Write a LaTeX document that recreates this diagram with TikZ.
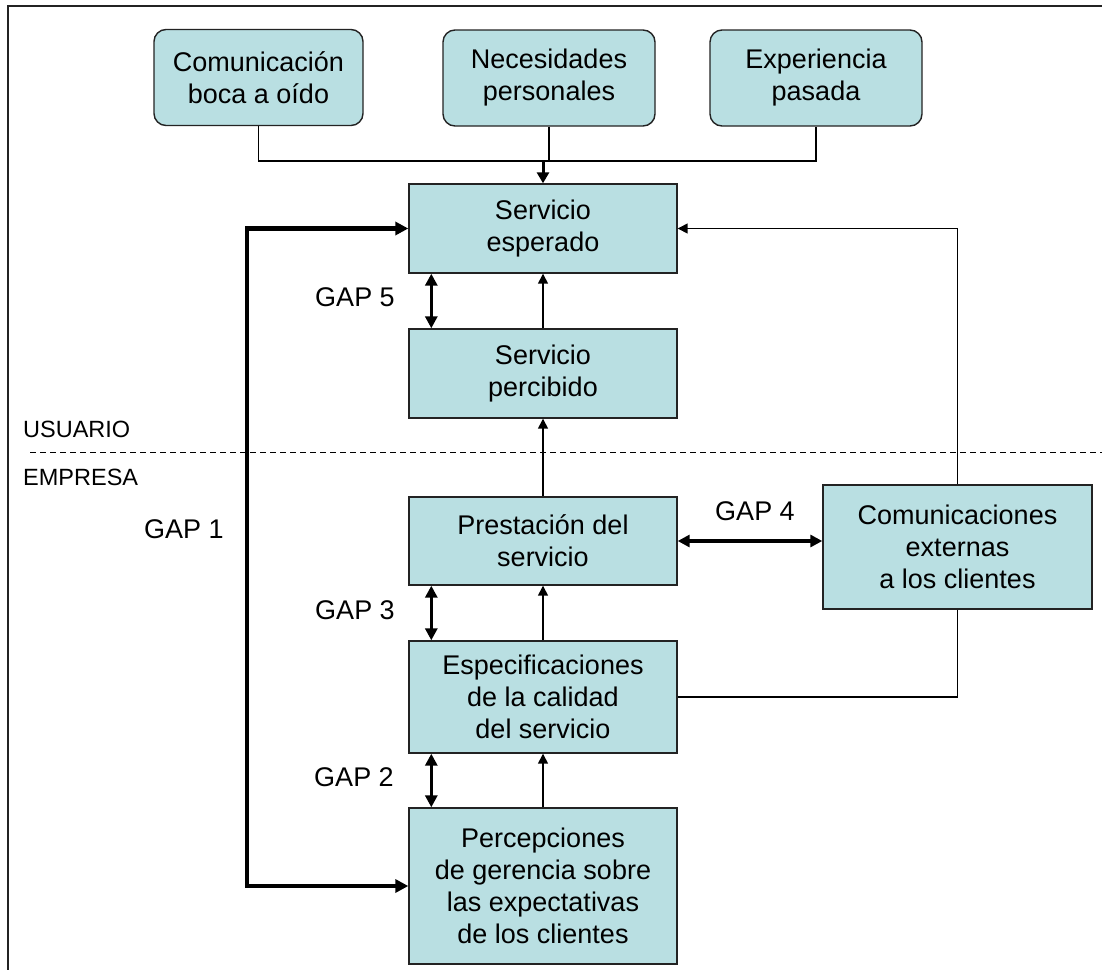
\documentclass[tikz,border=0pt]{standalone}
\usepackage{fontspec}
\setmainfont{Liberation Sans}
\usetikzlibrary{arrows.meta}
\definecolor{boxfill}{RGB}{185,223,226}
\definecolor{edge}{RGB}{35,35,35}
\tikzset{
  base/.style={draw=edge, line width=1.4pt, fill=boxfill, align=center,
    font=\fontsize{27}{32}\selectfont, inner sep=0pt},
  topbox/.style={base, rounded corners=12pt, minimum height=96pt},
  stepbox/.style={base, minimum width=268pt},
  link/.style={line width=1.5pt, draw=black},
  uparrow/.style={link, -{Triangle[length=10pt,width=10pt]}},
  gaparrow/.style={line width=3.2pt, {Triangle[length=12pt,width=12pt]}-{Triangle[length=12pt,width=12pt]}},
  gaplabel/.style={font=\fontsize{27}{32}\selectfont, inner sep=0pt},
  zonelabel/.style={font=\fontsize{23.5}{28}\selectfont, inner sep=0pt, anchor=west}
}
\begin{document}
\begin{tikzpicture}[x=1pt,y=-1pt]
\useasboundingbox (0,0) rectangle (1102,970);

% frame
\draw[line width=2pt, draw=edge] (1102,6) -- (8,6) -- (8,970);

% influences on the expected service
\node[topbox, minimum width=209pt] (boca) at (258.5,77.5) {Comunicación\\boca a oído};
\node[topbox, minimum width=212pt] (necesidades) at (549,78) {Necesidades\\personales};
\node[topbox, minimum width=212pt] (experiencia) at (816,78) {Experiencia\\pasada};

% main chain
\node[stepbox, minimum height=89pt] (esperado) at (543,228.5) {Servicio\\esperado};
\node[stepbox, minimum height=89pt] (percibido) at (543,373.5) {Servicio\\percibido};
\node[stepbox, minimum height=88pt] (prestacion) at (543,541) {Prestación del\\servicio};
\node[stepbox, minimum height=112pt] (especif) at (543,697) {Especificaciones\\de la calidad\\del servicio};
\node[stepbox, minimum height=156pt] (percep) at (543,886) {Percepciones\\de gerencia sobre\\las expectativas\\de los clientes};
\node[base, minimum width=269pt, minimum height=124pt] (externas) at (957.5,547) {Comunicaciones\\externas\\a los clientes};

% user / company divide
\draw[line width=1pt, dash pattern=on 6pt off 4pt] (30,452) -- (1102,452);
\node[zonelabel] (usuario) at (23,429) {USUARIO};
\node[zonelabel] (empresa) at (23,477) {EMPRESA};

% collecting bus from the three top boxes
\coordinate (bus) at (543,161);
\draw[link] (boca.south) |- (bus) -| (experiencia.south);
\draw[link] (necesidades.south) -- (necesidades.south |- bus);
\draw[line width=3pt, -{Triangle[length=11pt,width=12pt]}] (bus) -- (esperado.north);

% upward flow
\draw[uparrow] (percibido.north) -- (esperado.south);
\draw[uparrow] (prestacion.north) -- (percibido.south);
\draw[uparrow] (especif.north) -- (prestacion.south);
\draw[uparrow] (percep.north) -- (especif.south);

% external communications
\draw[uparrow] (externas.north) |- (esperado.east);
\draw[link] (externas.south) |- (especif.east);

% gaps
\draw[gaparrow] ([xshift=23pt]esperado.south west) -- ([xshift=23pt]percibido.north west);
\draw[gaparrow] ([xshift=23pt]prestacion.south west) -- ([xshift=23pt]especif.north west);
\draw[gaparrow] ([xshift=23pt]especif.south west) -- ([xshift=23pt]percep.north west);
\draw[gaparrow] (prestacion.east) -- (prestacion.east -| externas.west);
\coordinate (gapline) at (247,560);
\draw[line width=4.5pt, {Triangle[length=13pt,width=13pt]}-{Triangle[length=13pt,width=13pt]}]
  (esperado.west) -| (gapline) |- (percep.west);

\node[gaplabel] (gap5) at (355,297) {GAP 5};
\node[gaplabel] (gap3) at (355,610) {GAP 3};
\node[gaplabel] (gap2) at (354,777) {GAP 2};
\node[gaplabel] (gap4) at (755,511) {GAP 4};
\node[gaplabel] (gap1) at (184,529) {GAP 1};
\end{tikzpicture}
\end{document}
